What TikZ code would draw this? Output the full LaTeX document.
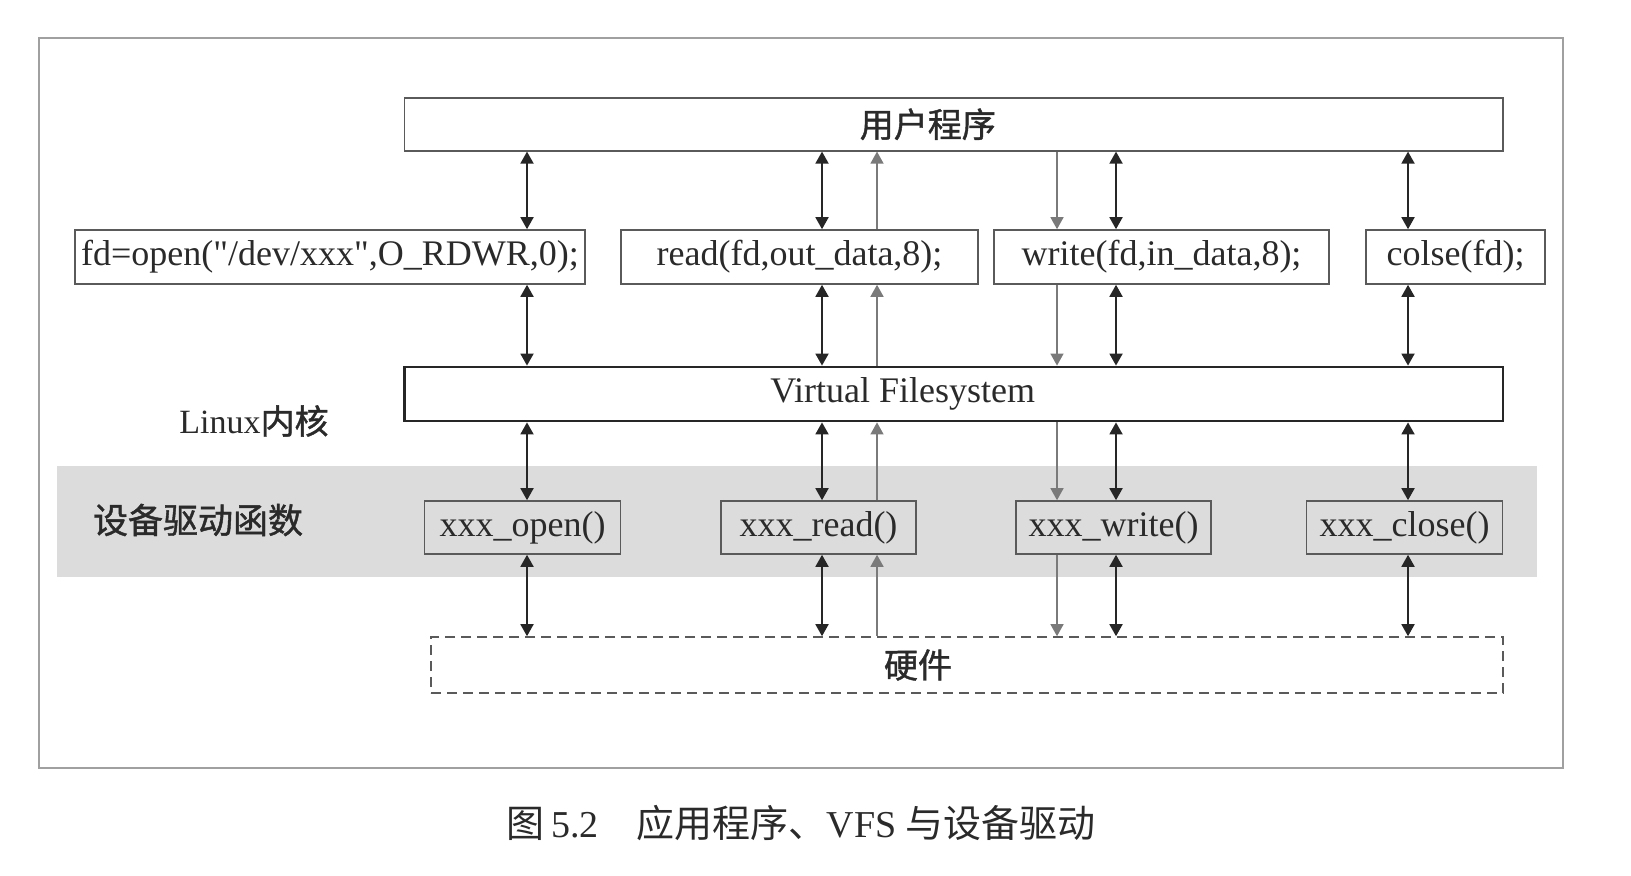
\documentclass[tikz,border=0pt]{standalone}
\usepackage{fontspec}
\setmainfont{Liberation Serif}
\newfontfamily\plainquote{Liberation Serif}
\newfontfamily\cjk{Noto Sans CJK SC}
\newfontfamily\cjkb[FakeBold=1.2]{Noto Sans CJK SC}
\usetikzlibrary{arrows.meta}
\definecolor{bandgray}{HTML}{DCDCDC}
\definecolor{linegray}{HTML}{5A5A5A}
\definecolor{lightarrow}{HTML}{7A7A7A}
\definecolor{framegray}{HTML}{A0A0A0}
\definecolor{txt}{HTML}{2A2A2A}
\begin{document}
\begin{tikzpicture}[x=0.5pt,y=-0.5pt,
  box/.style={draw=linegray, line width=0.8pt, inner sep=0pt, text=txt,
    font=\fontsize{18}{20}\selectfont},
  vfsbox/.style={box, draw=black!85, line width=1.4pt},
  drvbox/.style={box, fill=bandgray, minimum width=98pt, minimum height=26.5pt},
  hwbox/.style={box, dashed, dash pattern=on 5pt off 3pt},
  cjklabel/.style={text=txt, font=\cjk\fontsize{17}{20}\selectfont, inner sep=0pt},
  dbl/.style={draw=black!85, line width=0.9pt,
    {Triangle[length=6pt,width=6.5pt]}-{Triangle[length=6pt,width=6.5pt]}},
  one/.style={draw=lightarrow, line width=0.7pt,
    -{Triangle[length=6pt,width=6.5pt]}}
]
\useasboundingbox (0,0) rectangle (1631,876);
\draw[framegray, line width=1pt] (38.5,38.5) rectangle (1563,767.7);
\fill[bandgray] (57,466) rectangle (1537,577);

% columns
\coordinate (c1) at (527,0);
\coordinate (c2) at (822,0);
\coordinate (c3) at (877,0);
\coordinate (c4) at (1057,0);
\coordinate (c5) at (1116,0);
\coordinate (c6) at (1408,0);

% user program
\node[box, minimum width=549.2pt, minimum height=26.5pt,
  font=\cjkb\fontsize{17}{20}\selectfont] (user) at (953.8,124.3) {用户程序\hspace*{26pt}};

% system calls
\node[box, minimum width=255pt, minimum height=27pt] (open) at (330,257)
  {fd=open({\plainquote"}/dev/xxx{\plainquote"},O\_RDWR,0);};
\node[box, minimum width=178.5pt, minimum height=27pt] (read) at (799.5,257)
  {read(fd,out\_data,8);};
\node[box, minimum width=167.5pt, minimum height=27pt] (write) at (1161.5,257)
  {write(fd,in\_data,8);};
\node[box, minimum width=89.5pt, minimum height=27pt] (close) at (1455.5,257)
  {colse(fd);};

% VFS
\node[vfsbox, minimum width=549.2pt, minimum height=27pt] (vfs) at (953.8,394)
  {Virtual Filesystem\hspace*{51pt}};
\node[cjklabel, font=\fontsize{17}{20}\selectfont] (linux) at (254,421)
  {{\rmfamily Linux}{\cjkb 内核}};

% drivers
\node[cjklabel, font=\cjkb\fontsize{17.5}{20}\selectfont] (drvlabel) at (198,520) {设备驱动函数};
\node[drvbox] (dopen) at (522.5,527.5) {xxx\_open()};
\node[drvbox, minimum width=97.5pt] (dread) at (818.5,527.5) {xxx\_read()};
\node[drvbox, minimum width=97.5pt] (dwrite) at (1113.5,527.5) {xxx\_write()};
\node[drvbox] (dclose) at (1404.5,527.5) {xxx\_close()};

% hardware
\node[hwbox, minimum width=536pt, minimum height=28pt,
  font=\cjkb\fontsize{17}{20}\selectfont] (hw) at (967,665) {硬件\hspace*{49pt}};

% arrows: user <-> syscalls
\draw[dbl] (user.south -| c1) -- (open.north -| c1);
\draw[dbl] (user.south -| c2) -- (read.north -| c2);
\draw[one] (read.north -| c3) -- (user.south -| c3);
\draw[one] (user.south -| c4) -- (write.north -| c4);
\draw[dbl] (user.south -| c5) -- (write.north -| c5);
\draw[dbl] (user.south -| c6) -- (close.north -| c6);

% syscalls <-> VFS
\draw[dbl] (open.south -| c1) -- (vfs.north -| c1);
\draw[dbl] (read.south -| c2) -- (vfs.north -| c2);
\draw[one] (vfs.north -| c3) -- (read.south -| c3);
\draw[one] (write.south -| c4) -- (vfs.north -| c4);
\draw[dbl] (write.south -| c5) -- (vfs.north -| c5);
\draw[dbl] (close.south -| c6) -- (vfs.north -| c6);

% VFS <-> drivers
\draw[dbl] (vfs.south -| c1) -- (dopen.north -| c1);
\draw[dbl] (vfs.south -| c2) -- (dread.north -| c2);
\draw[one] (dread.north -| c3) -- (vfs.south -| c3);
\draw[one] (vfs.south -| c4) -- (dwrite.north -| c4);
\draw[dbl] (vfs.south -| c5) -- (dwrite.north -| c5);
\draw[dbl] (vfs.south -| c6) -- (dclose.north -| c6);

% drivers <-> hardware
\draw[dbl] (dopen.south -| c1) -- (hw.north -| c1);
\draw[dbl] (dread.south -| c2) -- (hw.north -| c2);
\draw[one] (hw.north -| c3) -- (dread.south -| c3);
\draw[one] (dwrite.south -| c4) -- (hw.north -| c4);
\draw[dbl] (dwrite.south -| c5) -- (hw.north -| c5);
\draw[dbl] (dclose.south -| c6) -- (hw.north -| c6);

% caption
\node[text=txt, inner sep=0pt, font=\cjk\fontsize{19}{22}\selectfont] (caption) at (801,823)
  {图\,{\rmfamily 5.2}\quad 应用程序、{\rmfamily VFS} 与设备驱动};
\end{tikzpicture}
\end{document}
